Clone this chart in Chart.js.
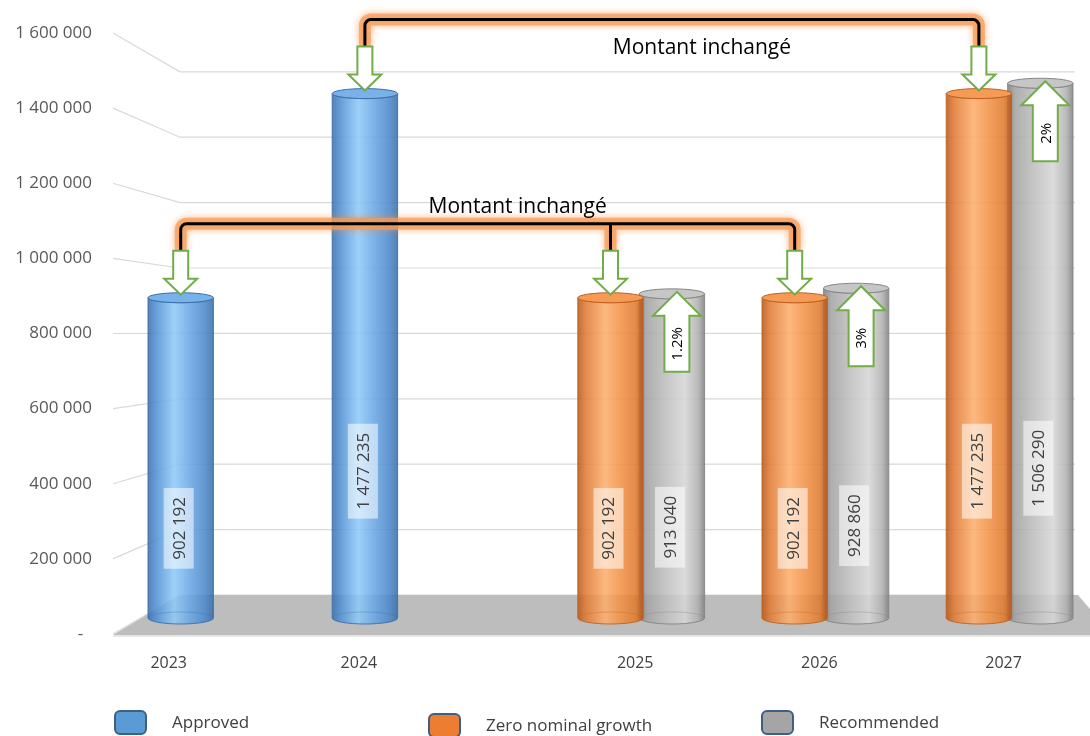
<!DOCTYPE html>
<html lang="fr">

<head>
    <meta charset="UTF-8">
    <title>Approved / Zero nominal growth / Recommended</title>
    <style>
        html, body { margin: 0; padding: 0; background: #fff; }
    </style>
</head>

<body>
    <canvas id="myChart" width="1090" height="736"></canvas>

    <script src="https://cdn.jsdelivr.net/npm/chart.js"></script>
    <script>
        // data
        let v_years = ['2023', '2024', '2025', '2026', '2027'];
        let v_approved = [902192, 1477235, null, null, null];
        let v_zeroGrowth = [null, null, 902192, 902192, 1477235];
        let v_recommended = [null, null, 913040, 928860, 1506290];
        let v_growth = [null, null, '1.2%', '3%', '2%'];
        let v_tickStep = 200000;
        let v_tickMax = 1600000;
        let v_sameText = 'Montant inchangé';
        let v_seriesNames = ['Approved', 'Zero nominal growth', 'Recommended'];

        const FONT = "'Open Sans', sans-serif";

        // cylinder colours (left edge -> right edge)
        const v_looks = [
            { stops: [0, .12, .4, .62, .88, 1], body: ['#3a70ab', '#4f8fd2', '#8fcaf8', '#6ba9e6', '#4a86c9', '#3a6ea6'], cap: '#78b2e8', edge: '#3a6fa9', key: '#5b9bd5' },
            { stops: [0, .12, .42, .62, .88, 1], body: ['#b9581a', '#e07a34', '#fdae6c', '#f4954a', '#e07a2e', '#b5561a'], cap: '#f59b55', edge: '#c0601e', key: '#ed7d31' },
            { stops: [0, .12, .45, .7, .9, 1], body: ['#7d7d7d', '#a3a3a3', '#c2c2c2', '#d6d6d6', '#b0b0b0', '#808080'], cap: '#c6c6c6', edge: '#858585', key: '#a5a5a5' }
        ];

        function fmt(v) {
            return String(v).replace(/\B(?=(\d{3})+(?!\d))/g, ' ');
        }

        function drawCylinder(ctx, x, top, bottom, w, c) {
            let rx = w / 2, ryT = 5, ryB = 6;
            let g = ctx.createLinearGradient(x - rx, 0, x + rx, 0);
            c.body.forEach((col, k) => g.addColorStop(c.stops[k], col));
            ctx.save();
            ctx.beginPath();
            ctx.moveTo(x - rx, top);
            ctx.lineTo(x - rx, bottom);
            ctx.ellipse(x, bottom, rx, ryB, 0, Math.PI, 0, true);
            ctx.lineTo(x + rx, top);
            ctx.ellipse(x, top, rx, ryT, 0, 0, Math.PI, false);
            ctx.closePath();
            ctx.globalAlpha = 0.87;
            ctx.fillStyle = g;
            ctx.fill();
            ctx.globalAlpha = 0.9;
            ctx.strokeStyle = c.edge;
            ctx.lineWidth = 1;
            ctx.stroke();
            // back half of the base, seen through
            ctx.globalAlpha = 0.35;
            ctx.beginPath();
            ctx.ellipse(x, bottom, rx, ryB, 0, Math.PI, 0, false);
            ctx.stroke();
            // top cap
            ctx.globalAlpha = 1;
            ctx.beginPath();
            ctx.ellipse(x, top, rx, ryT, 0, 0, Math.PI * 2);
            ctx.fillStyle = c.cap;
            ctx.fill();
            ctx.stroke();
            ctx.restore();
        }

        function downArrow(ctx, x, tip) {
            let L = 44, h = 16, sw = 7.5, hw = 16.5, top = tip - L;
            ctx.beginPath();
            ctx.moveTo(x - sw, top);
            ctx.lineTo(x + sw, top);
            ctx.lineTo(x + sw, tip - h);
            ctx.lineTo(x + hw, tip - h);
            ctx.lineTo(x, tip);
            ctx.lineTo(x - hw, tip - h);
            ctx.lineTo(x - sw, tip - h);
            ctx.closePath();
            ctx.fillStyle = '#fff';
            ctx.fill();
            ctx.strokeStyle = '#70ad47';
            ctx.lineWidth = 2;
            ctx.stroke();
            return top;
        }

        function upArrow(ctx, x, tip, txt) {
            let L = 80, h = 24, sw = 12.5, hw = 24;
            ctx.beginPath();
            ctx.moveTo(x, tip);
            ctx.lineTo(x + hw, tip + h);
            ctx.lineTo(x + sw, tip + h);
            ctx.lineTo(x + sw, tip + L);
            ctx.lineTo(x - sw, tip + L);
            ctx.lineTo(x - sw, tip + h);
            ctx.lineTo(x - hw, tip + h);
            ctx.closePath();
            ctx.fillStyle = '#fff';
            ctx.fill();
            ctx.strokeStyle = '#70ad47';
            ctx.lineWidth = 2;
            ctx.stroke();
            ctx.save();
            ctx.translate(x + 1, tip + h + (L - h) / 2);
            ctx.rotate(-Math.PI / 2);
            ctx.fillStyle = '#000';
            ctx.font = '15px ' + FONT;
            ctx.textAlign = 'center';
            ctx.textBaseline = 'middle';
            ctx.fillText(txt, 0, 0);
            ctx.restore();
        }

        function bracket(ctx, xs, lineY, ends) {
            let r = 6;
            let x0 = xs[0], x1 = xs[xs.length - 1];
            let path = () => {
                ctx.beginPath();
                ctx.moveTo(x0, ends[0]);
                ctx.lineTo(x0, lineY + r);
                ctx.arcTo(x0, lineY, x0 + r, lineY, r);
                ctx.lineTo(x1 - r, lineY);
                ctx.arcTo(x1, lineY, x1, lineY + r, r);
                ctx.lineTo(x1, ends[ends.length - 1]);
                for (let k = 1; k < xs.length - 1; k++) {
                    ctx.moveTo(xs[k], lineY);
                    ctx.lineTo(xs[k], ends[k]);
                }
            };
            ctx.save();
            ctx.lineJoin = 'round';
            path();
            ctx.shadowColor = 'rgba(245,140,60,0.9)';
            ctx.shadowBlur = 7;
            ctx.strokeStyle = 'rgba(247,155,85,0.7)';
            ctx.lineWidth = 12;
            ctx.stroke();
            ctx.shadowBlur = 0;
            path();
            ctx.strokeStyle = '#000';
            ctx.lineWidth = 3;
            ctx.stroke();
            ctx.restore();
        }

        // gridlines on the back wall + floor
        const backdrop = {
            id: 'backdrop',
            beforeDatasetsDraw(chart) {
                let ctx = chart.ctx;
                let yl = chart.scales.yl, yb = chart.scales.yb;
                ctx.save();
                ctx.strokeStyle = '#d9d9d9';
                ctx.lineWidth = 1.2;
                yl.ticks.forEach(t => {
                    ctx.beginPath();
                    ctx.moveTo(113, yl.getPixelForValue(t.value));
                    ctx.lineTo(180, yb.getPixelForValue(t.value));
                    ctx.lineTo(1075, yb.getPixelForValue(t.value));
                    ctx.stroke();
                });
                let front = yl.getPixelForValue(0) + 1;
                let back = yb.getPixelForValue(0);
                ctx.beginPath();
                ctx.moveTo(113, front);
                ctx.lineTo(180, back);
                ctx.lineTo(1078, back);
                ctx.lineTo(1090, back + 14);
                ctx.lineTo(1090, front);
                ctx.closePath();
                ctx.fillStyle = '#bdbdbd';
                ctx.fill();
                ctx.fillStyle = '#e6e6e6';
                ctx.fillRect(113, front, 977, 2);
                ctx.restore();
            }
        };

        // cylinders, labels, arrows, brackets, legend
        const cylinders = {
            id: 'cylinders',
            afterDatasetsDraw(chart) {
                let ctx = chart.ctx;
                let sets = chart.data.datasets;
                // back to front: gray, orange, blue
                for (let i = sets.length - 1; i >= 0; i--) {
                    let meta = chart.getDatasetMeta(i);
                    meta.data.forEach((bar, j) => {
                        if (sets[i].data[j] == null) return;
                        drawCylinder(ctx, bar.x, bar.y, bar.base, bar.width + 4, v_looks[i]);
                    });
                }
                // value labels, rotated
                ctx.save();
                ctx.font = '17px ' + FONT;
                sets.forEach((ds, i) => {
                    chart.getDatasetMeta(i).data.forEach((bar, j) => {
                        let v = ds.data[j];
                        if (v == null) return;
                        let txt = fmt(v);
                        let len = ctx.measureText(txt).width + 18;
                        let cy = bar.base - 0.28 * (bar.base - bar.y);
                        ctx.save();
                        ctx.translate(bar.x - 2, cy);
                        ctx.rotate(-Math.PI / 2);
                        ctx.fillStyle = 'rgba(255,255,255,0.55)';
                        ctx.fillRect(-len / 2, -15, len, 30);
                        ctx.fillStyle = '#404040';
                        ctx.textAlign = 'center';
                        ctx.textBaseline = 'middle';
                        ctx.fillText(txt, 0, 1);
                        ctx.restore();
                    });
                });
                ctx.restore();
            },
            afterDraw(chart) {
                let ctx = chart.ctx;
                let sets = chart.data.datasets;
                let mA = chart.getDatasetMeta(0), mZ = chart.getDatasetMeta(1), mR = chart.getDatasetMeta(2);

                // brackets joining equal amounts
                let seen = [];
                v_approved.forEach((v, i) => {
                    if (v == null || seen.includes(v)) return;
                    seen.push(v);
                    let bars = [mA.data[i]];
                    v_zeroGrowth.forEach((z, j) => { if (z === v) bars.push(mZ.data[j]); });
                    let xs = bars.map(b => b.x);
                    let tips = bars.map(b => b.y - 3);
                    let ends = tips.map(t => t - 44);
                    let lineY = Math.min(...ends) - 27;
                    bracket(ctx, xs, lineY, ends);
                    bars.forEach((b, k) => downArrow(ctx, xs[k], tips[k]));
                    let mid = (xs[0] + xs[xs.length - 1]) / 2 + 30;
                    let below = lineY < 60;
                    ctx.save();
                    ctx.font = '21px ' + FONT;
                    ctx.fillStyle = '#000';
                    ctx.textAlign = 'center';
                    ctx.textBaseline = 'middle';
                    ctx.fillText(v_sameText, mid, below ? lineY + 28 : lineY - 17);
                    ctx.restore();
                });

                // growth arrows on the recommended bars
                v_growth.forEach((g, j) => {
                    if (g == null) return;
                    let b = mR.data[j];
                    upArrow(ctx, b.x + 5, b.y - 2, g);
                });

                // year labels under the bars
                ctx.save();
                ctx.font = '16px ' + FONT;
                ctx.fillStyle = '#404040';
                ctx.textAlign = 'center';
                ctx.textBaseline = 'middle';
                v_years.forEach((yr, j) => {
                    let xs = [];
                    sets.forEach((ds, i) => { if (ds.data[j] != null) xs.push(chart.getDatasetMeta(i).data[j].x); });
                    let cx = xs.reduce((a, b) => a + b, 0) / xs.length - 6;
                    if (xs.length === 1 && j === 0) cx -= 6;
                    ctx.fillText(yr, cx, 663);
                });
                ctx.restore();

                // legend
                let keyX = [115, 429, 762];
                let keyY = [723, 726, 723];
                ctx.save();
                ctx.font = '17px ' + FONT;
                ctx.textBaseline = 'middle';
                v_seriesNames.forEach((name, i) => {
                    ctx.beginPath();
                    ctx.roundRect(keyX[i], keyY[i] - 12, 31, 23, 5);
                    ctx.fillStyle = v_looks[i].key;
                    ctx.fill();
                    ctx.strokeStyle = '#3f5f80';
                    ctx.lineWidth = 2;
                    ctx.stroke();
                    ctx.fillStyle = '#404040';
                    ctx.fillText(name, keyX[i] + 57, keyY[i]);
                });
                ctx.restore();
            }
        };

        let ctx = document.getElementById('myChart');
        new Chart(ctx, {
            type: 'bar',
            data: {
                labels: v_years,
                datasets: [
                    { label: v_seriesNames[0], data: v_approved },
                    { label: v_seriesNames[1], data: v_zeroGrowth },
                    { label: v_seriesNames[2], data: v_recommended }
                ].map(d => Object.assign(d, {
                    backgroundColor: 'rgba(0,0,0,0)',
                    borderWidth: 0,
                    barPercentage: 1,
                    categoryPercentage: 1
                }))
            },
            options: {
                responsive: false,
                animation: false,
                devicePixelRatio: 1,
                layout: { padding: { left: 0, right: 19, top: 33, bottom: 102 } },
                plugins: {
                    legend: { display: false },
                    tooltip: { enabled: false }
                },
                scales: {
                    x: { display: false },
                    // bar heights (front of the cylinders)
                    y: { display: false, min: -45070, max: 1647887 },
                    // labelled axis on the left
                    yl: {
                        position: 'left',
                        min: 0,
                        max: v_tickMax,
                        ticks: {
                            stepSize: v_tickStep,
                            padding: 58,
                            color: '#595959',
                            font: { family: FONT, size: 17 },
                            callback: v => v === 0 ? '-  ' : fmt(v)
                        },
                        grid: { display: false, drawTicks: false },
                        border: { display: false },
                        afterFit: s => {
                            s.width = 150;
                            s.paddingTop = 0;
                            s.paddingBottom = 0;
                        }
                    },
                    // back wall gridlines
                    yb: { display: false, min: -119266, max: 1718654 }
                }
            },
            plugins: [backdrop, cylinders]
        });
    </script>
</body>

</html>
